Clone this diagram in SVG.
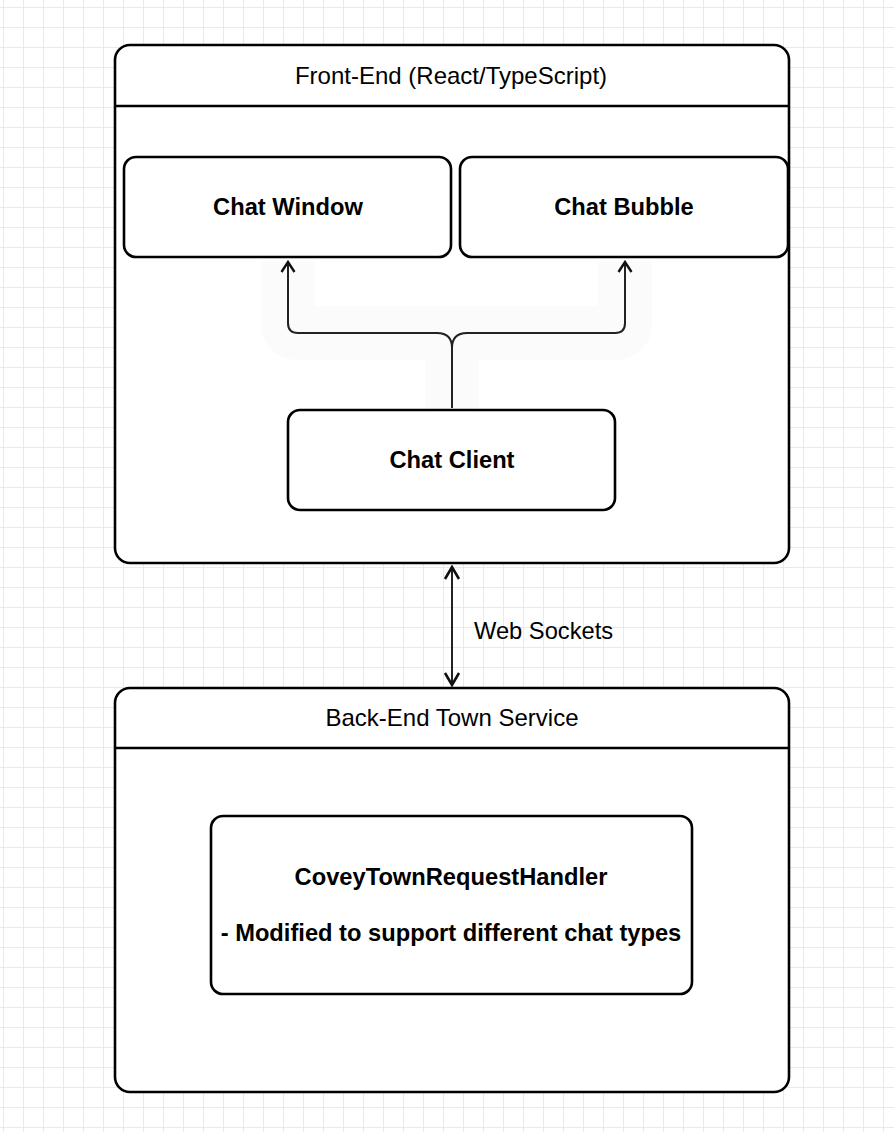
<svg xmlns="http://www.w3.org/2000/svg" width="894" height="1132" viewBox="0 0 894 1132">
<defs>
<pattern id="grid" x="3" y="7" width="20" height="20" patternUnits="userSpaceOnUse">
<path d="M0 0 H20 M0 0 V20" fill="none" stroke="#e4e0fb" stroke-width="1.5"/>
</pattern>
<marker id="arr" viewBox="0 0 18 18" refX="16" refY="9" markerWidth="18" markerHeight="18" markerUnits="userSpaceOnUse" orient="auto-start-reverse">
<path d="M4 2 L16 9 L4 16" fill="none" stroke="#111" stroke-width="2.6"/>
</marker>
<marker id="arrUp" viewBox="0 0 18 16" refX="9" refY="2" markerWidth="18" markerHeight="16" markerUnits="userSpaceOnUse" orient="0">
<path d="M2.5 12 L9 2 L15.5 12" fill="none" stroke="#111" stroke-width="2.4"/>
</marker>
</defs>
<style>
.box{fill:#fff;stroke:#000;stroke-width:2.6}
.line{fill:none;stroke:#000;stroke-width:2.6}
.title{font-family:"Liberation Sans",Arial,sans-serif;font-size:24px;fill:#000;text-anchor:middle}
.bold{font-family:"Liberation Sans",Arial,sans-serif;font-size:23.7px;font-weight:bold;fill:#000;text-anchor:middle}
.lbl{font-family:"Liberation Sans",Arial,sans-serif;font-size:23.7px;fill:#000}
.conn{fill:none;stroke:#222;stroke-width:2}
</style>
<rect width="894" height="1132" fill="#fff"/>
<rect width="894" height="1132" fill="url(#grid)"/>

<g id="front-end">
<rect class="box" x="115" y="45" width="674" height="518" rx="15"/>
<line class="line" x1="115" y1="106" x2="789" y2="106"/>
<text class="title" x="451" y="84">Front-End (React/TypeScript)</text>
</g>

<g id="back-end">
<rect class="box" x="115" y="688" width="674" height="404" rx="15"/>
<line class="line" x1="115" y1="748" x2="789" y2="748"/>
<text class="title" x="452" y="726">Back-End Town Service</text>
</g>

<path d="M288 262 V323 Q288 333 298 333 H615 Q625 333 625 323 V262 M452 333 V410" fill="none" stroke="#fbfbfb" stroke-width="54" stroke-linejoin="round"/>

<g id="connectors">
<path class="conn" d="M452 408 V348 Q452 333 437 333 H298 Q288 333 288 323 V262" marker-end="url(#arrUp)"/>
<path class="conn" d="M452 348 Q452 333 467 333 H615 Q625 333 625 323 V262" marker-end="url(#arrUp)"/>
<path class="conn" d="M452 567 V685" stroke="#555" stroke-width="2.2" marker-start="url(#arr)" marker-end="url(#arr)"/>
<text class="lbl" x="474" y="639">Web Sockets</text>
</g>

<g id="chat-window">
<rect class="box" x="124" y="157" width="327" height="100" rx="12"/>
<text class="bold" x="288" y="215">Chat Window</text>
</g>

<g id="chat-bubble">
<rect class="box" x="460" y="157" width="328" height="100" rx="12"/>
<text class="bold" x="624" y="215">Chat Bubble</text>
</g>

<g id="chat-client">
<rect class="box" x="288" y="410" width="327" height="100" rx="12"/>
<text class="bold" x="452" y="468">Chat Client</text>
</g>

<g id="covey-handler">
<rect class="box" x="211" y="816" width="481" height="178" rx="12"/>
<text class="bold" x="451" y="885">CoveyTownRequestHandler</text>
<text class="bold" x="451" y="941">- Modified to support different chat types</text>
</g>
</svg>
